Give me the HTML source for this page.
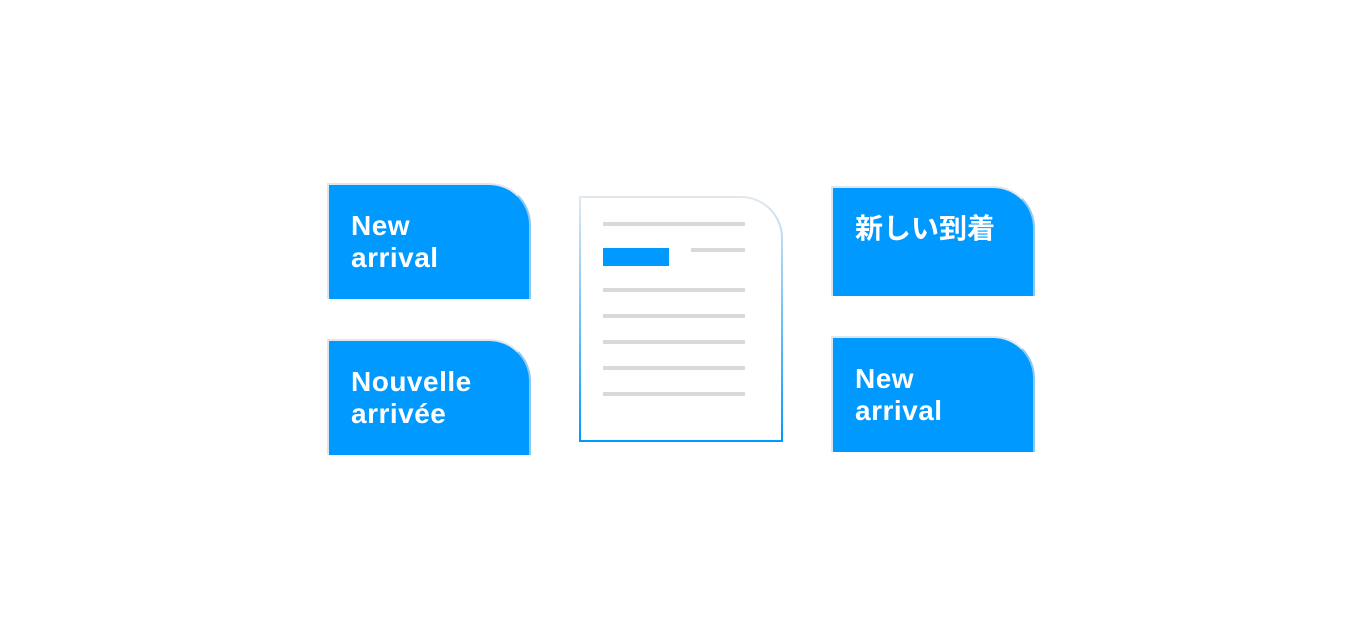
<!DOCTYPE html>
<html><head><meta charset="utf-8"><style>
body{margin:0;width:1362px;height:638px;background:#fff;position:relative;overflow:hidden;font-family:"Liberation Sans","Noto Sans CJK JP",sans-serif}
.c{position:absolute;width:204px;background:#0099ff;border:2px solid #dfe6ee;border-right-color:#8cc9f5;border-bottom:none;border-top-right-radius:42px;box-sizing:border-box;color:#fff;font-weight:bold;font-size:28px;letter-spacing:0.5px;line-height:32px;padding:25px 0 0 22px}
.doc{position:absolute;left:579px;top:196px;width:204px;height:246px;box-sizing:border-box;border-top-right-radius:42px;background:linear-gradient(#e2e8ee,#0099ff)}
.doc div{position:absolute;left:2px;top:2px;right:2px;bottom:2px;background:#fff;border-top-right-radius:40px}
.l{position:absolute;height:4px;background:#d9d9d9}
</style></head><body>
<div class="c" style="left:327px;top:183px;height:116px">New<br>arrival</div>
<div class="c" style="left:327px;top:339px;height:116px">Nouvelle<br>arrivée</div>
<div class="c" style="left:831px;top:186px;height:110px;letter-spacing:0">新しい到着</div>
<div class="c" style="left:831px;top:336px;height:116px">New<br>arrival</div>
<div class="doc"><div></div></div>
<div class="l" style="left:603px;top:222px;width:142px"></div>
<div style="position:absolute;left:603px;top:248px;width:66px;height:18px;background:#0099ff"></div>
<div class="l" style="left:691px;top:248px;width:54px"></div>
<div class="l" style="left:603px;top:288px;width:142px"></div>
<div class="l" style="left:603px;top:314px;width:142px"></div>
<div class="l" style="left:603px;top:340px;width:142px"></div>
<div class="l" style="left:603px;top:366px;width:142px"></div>
<div class="l" style="left:603px;top:392px;width:142px"></div>
</body></html>
